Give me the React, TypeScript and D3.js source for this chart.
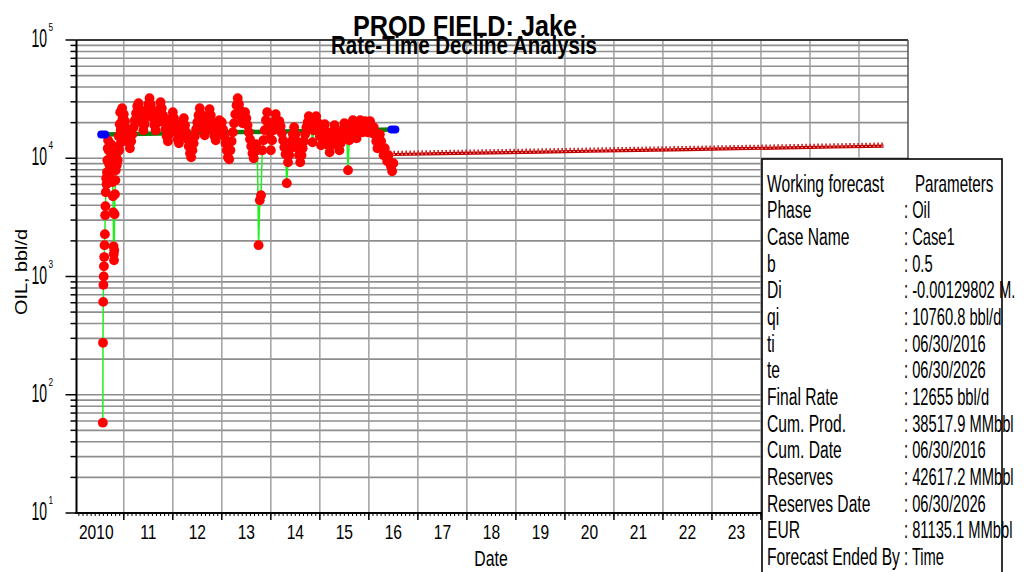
import * as d3 from "d3"

// ---- data -------------------------------------------------------------

// ramp-up after first production, decimal year / bbl/d
const rampYears = [
  2010.572, 2010.576, 2010.58, 2010.585, 2010.59, 2010.595, 2010.6, 2010.607, 2010.614, 2010.62,
  2010.626, 2010.632, 2010.64, 2010.648, 2010.656, 2010.664, 2010.672, 2010.68, 2010.69, 2010.7,
  2010.71, 2010.72, 2010.73, 2010.74, 2010.75, 2010.76, 2010.77, 2010.778, 2010.784, 2010.79,
  2010.795, 2010.8, 2010.806, 2010.812, 2010.82, 2010.828, 2010.836, 2010.846, 2010.856, 2010.866,
  2010.876, 2010.886, 2010.896, 2010.906, 2010.916, 2010.926, 2010.936, 2010.946, 2010.956, 2010.966,
  2010.976, 2010.988,
]
const rampRates = [
  58, 275, 610, 850, 1000, 1220, 1460, 1840, 2280, 3300, 3930, 5160, 6780, 6030, 7610, 9620, 12150,
  14200, 11690, 8900, 7040, 8560, 11240, 13130, 10400, 8230, 6270, 4770, 3490, 1800, 1540, 1370, 1670,
  3360, 4960, 6520, 7920, 10000, 8730, 11240, 9620, 12630, 15350, 11690, 19390, 24490, 17250, 13660,
  20160, 26470, 21790, 17930,
]

// oil rate samples, 40 per calendar year (one every 0.025 yr)
const sampleStep = 0.025
const oil2011 = [
  23550, 20550, 17930, 15650, 13660, 12150, 13920, 15960, 18290, 20960, 24020, 27520, 29180, 25960,
  22650, 19770, 17250, 19390, 22220, 25460, 28620, 32160, 28620, 24970, 21790, 19010, 17250, 19770,
  22650, 25960, 29750, 26470, 23100, 20160, 17590, 15350, 13920, 15960, 18650, 21790,
]
const oil2012 = [
  24490, 21790, 19010, 16590, 14480, 13390, 15350, 17590, 20160, 21790, 19010, 16590, 14480, 12630,
  11020, 10200, 11690, 13390, 15350, 17590, 20160, 23100, 26470, 23550, 20550, 17930, 15650, 17250,
  19770, 22650, 25960, 23100, 20160, 17590, 15350, 14200, 16270, 18650, 20960, 18290,
]
const oil2013 = [
  20160, 17590, 15350, 13390, 11690, 10200, 9810, 11690, 13920, 16590, 19770, 23550, 28060, 32160,
  28620, 25460, 22220, 19770, 21790, 24490, 21790, 19010, 16590, 14480, 12630, 11020, 10000, 11460,
  13130, 11690, 1840, 4410, 4870, 11690, 14200, 17250, 20960, 24490, 19390, 14760,
]
const oil2014 = [
  11690, 14200, 17250, 20550, 23550, 20960, 18290, 20550, 18650, 16270, 14200, 12390, 10810, 6150,
  9250, 10600, 12150, 13920, 15960, 18290, 15960, 13920, 12150, 10600, 9250, 10600, 12150, 13920,
  15960, 18290, 20160, 22650, 20160, 17590, 13660, 17250, 20160, 22650, 20160, 17590,
]
const oil2015 = [
  15350, 12880, 14760, 16920, 19390, 16920, 14760, 12880, 11240, 12880, 14760, 16920, 19010, 16590,
  14480, 12630, 11690, 13390, 15350, 17590, 19770, 17250, 15050, 7920, 14200, 16270, 18650, 20960,
  18650, 16590, 14760, 16590, 18650, 20960, 18650, 16590, 18290, 20550, 18650, 16590,
]
const oil2016 = [
  18650, 20550, 18290, 16270, 18290, 15960, 13920, 12150, 13920, 15960, 13920, 12150, 10600, 12150,
  10600, 9430, 10600, 9250, 8560, 7760, 9070,
]

// fitted trend through history (blue end markers)
const trendYears = [2010.58, 2016.5]
const trendRates = [15900, 17500]

// hyperbolic forecast, b = 0.5, ti 06/30/2016 -> te 06/30/2026
const forecastYears = [2016.5, 2017.5, 2018.5, 2019.5, 2020.5, 2021.5, 2022.5, 2023.5, 2024.5, 2025.5, 2026.5]
const forecastRates = [10761, 10930, 11104, 11282, 11464, 11650, 11842, 12038, 12238, 12444, 12655]

const yearLabels = ["2010", "11", "12", "13", "14", "15", "16", "17", "18", "19", "20", "21", "22", "23"]
const decades = [1, 2, 3, 4, 5]

const paramNames = [
  "Phase", "Case Name", "b", "Di", "qi", "ti", "te", "Final Rate", "Cum. Prod.", "Cum. Date",
  "Reserves", "Reserves Date", "EUR", "Forecast Ended By",
]
const paramValues = [
  ": Oil", ": Case1", ": 0.5", ": -0.00129802 M.", ": 10760.8 bbl/d", ": 06/30/2016", ": 06/30/2026",
  ": 12655 bbl/d", ": 38517.9 MMbbl", ": 06/30/2016", ": 42617.2 MMbbl", ": 06/30/2026",
  ": 81135.1 MMbbl", ": Time",
]

// ---- drawing ----------------------------------------------------------

const FONT = "'Liberation Sans', Arial, sans-serif"

function Txt(props: {
  x: number
  y: number
  size: number
  sx?: number
  anchor?: string
  weight?: string
  children: any
}) {
  const { x, y, size, sx = 0.7, anchor = "start", weight = "normal", children } = props
  return (
    <text
      transform={`translate(${x},${y}) scale(${sx},1)`}
      fontSize={size}
      textAnchor={anchor}
      fontWeight={weight}
      fill="#000"
    >
      {children}
    </text>
  )
}

export default function App() {
  const left = 76.5
  const right = 908
  const top = 40
  const bottom = 513

  const x = d3.scaleLinear().domain([2010.035, 2027]).range([left, right])
  const y = d3.scaleLog().domain([10, 1e5]).range([bottom, top])

  const yearly: [number, number[]][] = [
    [2011, oil2011],
    [2012, oil2012],
    [2013, oil2013],
    [2014, oil2014],
    [2015, oil2015],
    [2016, oil2016],
  ]
  const history: [number, number][] = [
    ...rampYears.map((t, i) => [t, rampRates[i]] as [number, number]),
    ...yearly.flatMap(([yr, vals]) => vals.map((v, i) => [yr + i * sampleStep, v] as [number, number])),
  ]
  const trend = trendYears.map((t, i) => [t, trendRates[i]] as [number, number])
  const forecast = forecastYears.map((t, i) => [t, forecastRates[i]] as [number, number])

  const line = d3
    .line<[number, number]>()
    .x((d) => x(d[0]))
    .y((d) => y(d[1]))

  const gridValues: number[] = []
  for (let k = 1; k <= 4; k++) for (let m = 1; m <= 9; m++) gridValues.push(m * 10 ** k)
  gridValues.push(1e5)

  const gridYears = d3.range(2011, 2027)
  const monthTicks = d3.range(2010 + 1 / 12, 2027, 1 / 12).filter((t) => t > 2010.035 && t < 2027)

  const legendX = 762
  const legendY = 159
  const rowY = (k: number) => 191.7 + k * 26.67

  return (
    <svg
      width={1024}
      height={572}
      style={{ position: "absolute", left: 0, top: 0, background: "#fff" }}
      fontFamily={FONT}
    >
      <rect width={1024} height={572} fill="#fff" />

      {/* grid */}
      <g stroke="#8e8e8e" strokeWidth={1.6}>
        {gridValues.map((v) => (
          <line key={"h" + v} x1={left} x2={right} y1={y(v)} y2={y(v)} />
        ))}
        {gridYears.map((t) => (
          <line key={"v" + t} x1={x(t)} x2={x(t)} y1={top} y2={bottom} stroke="#9a9a9a" strokeWidth={1.4} />
        ))}
      </g>

      {/* frame */}
      <line x1={left} x2={right} y1={top} y2={top} stroke="#3a3a3a" strokeWidth={2} />
      <line x1={right} x2={right} y1={top} y2={bottom} stroke="#555" strokeWidth={1.5} />
      <line x1={left} x2={left} y1={top} y2={bottom + 1} stroke="#000" strokeWidth={2} />
      <line x1={left - 1} x2={right} y1={bottom} y2={bottom} stroke="#000" strokeWidth={2} />

      {/* ticks */}
      <g stroke="#000" strokeWidth={1.5}>
        {gridValues.map((v) => {
          const major = Math.abs(Math.log10(v) - Math.round(Math.log10(v))) < 1e-9
          return <line key={"yt" + v} x1={left - (major ? 11 : 6)} x2={left} y1={y(v)} y2={y(v)} />
        })}
        {gridYears.map((t) => (
          <line key={"xt" + t} x1={x(t)} x2={x(t)} y1={bottom} y2={bottom + 7} />
        ))}
        {monthTicks.map((t, i) => (
          <line key={"mt" + i} x1={x(t)} x2={x(t)} y1={bottom} y2={bottom + 3} strokeWidth={1} />
        ))}
      </g>

      {/* y tick labels */}
      {decades.map((e) => (
        <g key={"yl" + e}>
          <Txt x={47} y={y(10 ** e) + 7} size={25} sx={0.56} anchor="end">
            10
          </Txt>
          <Txt x={48.5} y={y(10 ** e) - 9} size={11} sx={0.75}>
            {String(e)}
          </Txt>
        </g>
      ))}

      {/* x tick labels */}
      {yearLabels.map((lab, i) => (
        <Txt key={lab} x={x(2010.5 + i) + (i === 0 ? -3 : 0)} y={539} size={20} sx={0.78} anchor="middle">
          {lab}
        </Txt>
      ))}

      {/* axis titles */}
      <Txt x={491} y={566} size={22} sx={0.72} anchor="middle">
        Date
      </Txt>
      <text
        transform="translate(27,272) rotate(-90)"
        fontSize={17}
        textAnchor="middle"
        textLength={86}
        lengthAdjust="spacingAndGlyphs"
      >
        OIL, bbl/d
      </text>

      {/* history */}
      <path d={line(history) ?? undefined} fill="none" stroke="#22ee22" strokeWidth={1.5} />
      <path d={line(trend) ?? undefined} fill="none" stroke="#0a800a" strokeWidth={4.5} />
      <g fill="#ff0000">
        {history.map((d, i) => (
          <circle key={i} cx={x(d[0])} cy={y(d[1])} r={4.9} />
        ))}
      </g>
      <g fill="#0000ff">
        {trend.map((d, i) => (
          <rect key={i} x={x(d[0]) - 6} y={y(d[1]) - 4} width={12} height={8} rx={4} />
        ))}
      </g>

      {/* forecast */}
      <path d={line(forecast) ?? undefined} fill="none" stroke="#c00000" strokeWidth={3.2} />
      <path
        d={line(forecast) ?? undefined}
        transform="translate(0,-2.5)"
        fill="none"
        stroke="#d41c1c"
        strokeWidth={2.4}
        strokeDasharray="1.6 2.4"
      />
      <path
        d={line(forecast) ?? undefined}
        fill="none"
        stroke="#f4b0b0"
        strokeWidth={1}
        strokeDasharray="1.5 2.5"
      />

      {/* titles */}
      <text x={465} y={35.5} fontSize={30} fontWeight="bold" textAnchor="middle" textLength={224} lengthAdjust="spacingAndGlyphs">
        PROD FIELD: Jake
      </text>
      <text x={464} y={53.5} fontSize={26} fontWeight="bold" textAnchor="middle" textLength={266} lengthAdjust="spacingAndGlyphs">
        Rate-Time Decline Analysis
      </text>

      {/* parameters box */}
      <rect x={legendX} y={legendY} width={240} height={430} fill="#fff" />
      <Txt x={767} y={rowY(0)} size={23} sx={0.68}>
        Working forecast
      </Txt>
      <Txt x={915} y={rowY(0)} size={23} sx={0.66}>
        Parameters
      </Txt>
      {paramNames.map((n, i) => (
        <g key={n + i}>
          <Txt x={767} y={rowY(i + 1)} size={23} sx={0.68}>
            {n}
          </Txt>
          <Txt x={904} y={rowY(i + 1)} size={23} sx={0.64}>
            {paramValues[i]}
          </Txt>
        </g>
      ))}
      <rect x={legendX} y={legendY} width={240} height={430} fill="none" stroke="#000" strokeWidth={1.6} />
    </svg>
  )
}
